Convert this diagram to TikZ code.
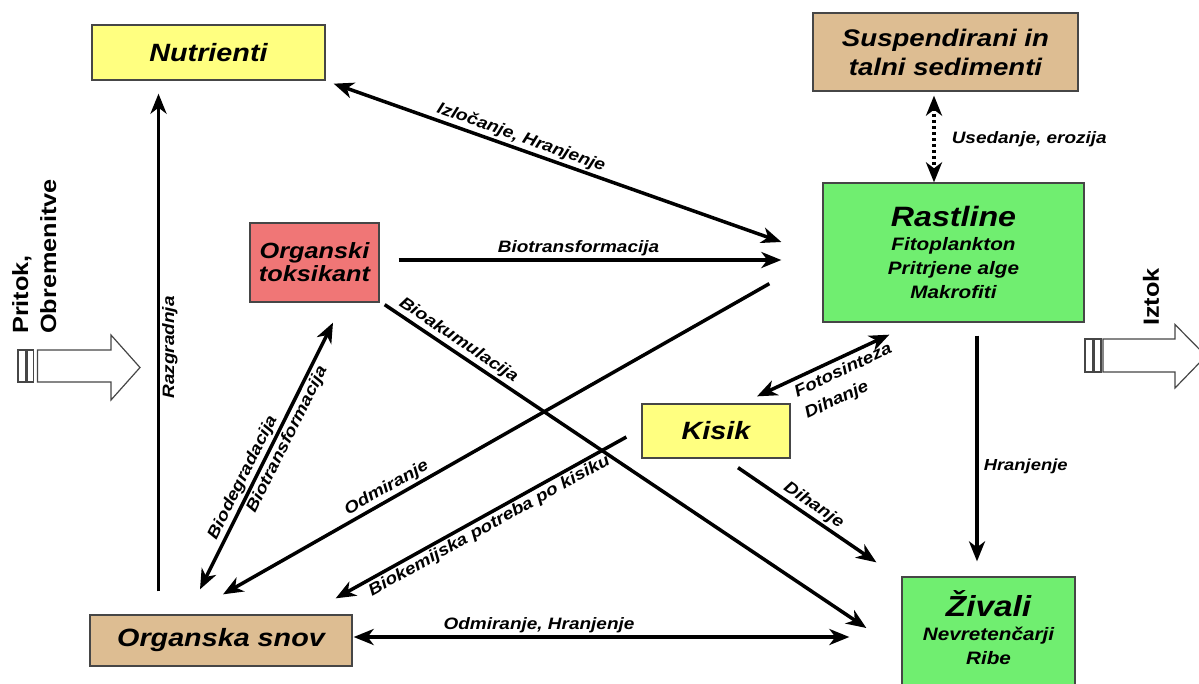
\documentclass[tikz,border=0pt]{standalone}
\usepackage{fontspec}
\setmainfont{Liberation Sans}[FakeStretch=1.15]
\usetikzlibrary{arrows.meta,calc}
\definecolor{boxyellow}{RGB}{255,255,128}
\definecolor{boxtan}{RGB}{221,189,146}
\definecolor{boxgreen}{RGB}{112,238,112}
\definecolor{boxred}{RGB}{240,118,118}
\definecolor{boxline}{RGB}{70,70,70}
\tikzset{
  box/.style={draw=boxline, line width=1.3pt, inner sep=0pt, align=center, font=\bfseries\itshape},
  conn/.style={line width=3.5pt, -{Stealth[length=20pt,width=16pt,inset=6pt]}},
  dconn/.style={line width=3.5pt, {Stealth[length=20pt,width=16pt,inset=6pt]}-{Stealth[length=20pt,width=16pt,inset=6pt]}},
  lab/.style={font=\bfseries\itshape\fontsize{16.5}{19}\selectfont, inner sep=2pt},
  blockarrow/.style={draw=boxline, line width=1.2pt, fill=white},
}
\begin{document}
\begin{tikzpicture}[x=1pt,y=-1pt]
\path[use as bounding box] (0,0) rectangle (1199,683);
\clip (0,0) rectangle (1199,683);

% boxes
\node[box, fill=boxyellow, minimum width=233, minimum height=55, font=\bfseries\itshape\fontsize{25}{28}\selectfont] (nut) at (208.5,52.5) {Nutrienti};
\node[box, fill=boxtan, minimum width=265, minimum height=78, font=\bfseries\itshape\fontsize{24}{29}\selectfont] (sus) at (945.5,52) {Suspendirani in\\talni sedimenti};
\node[box, fill=boxgreen, minimum width=261, minimum height=139, font=\bfseries\itshape\fontsize{18}{24}\selectfont] (rast) at (953.5,252.5) {{\fontsize{28}{28}\selectfont Rastline}\\ Fitoplankton\\ Pritrjene alge\\ Makrofiti};
\node[box, fill=boxred, minimum width=129, minimum height=79, font=\bfseries\itshape\fontsize{22}{23}\selectfont] (tox) at (314.5,262.5) {Organski\\toksikant};
\node[box, fill=boxyellow, minimum width=148, minimum height=54, font=\bfseries\itshape\fontsize{25}{28}\selectfont] (kis) at (716,431) {Kisik};
\node[box, fill=boxtan, minimum width=262, minimum height=51, font=\bfseries\itshape\fontsize{25}{28}\selectfont] (snov) at (221,640.5) {Organska snov};
\node[box, fill=boxgreen, minimum width=173, minimum height=113] (ziv) at (988.5,633.5) {};
\node[align=center, inner sep=0pt, font=\bfseries\itshape\fontsize{18}{24}\selectfont] (zivt) at (988.5,628) {{\fontsize{29}{28}\selectfont Živali}\\ Nevretenčarji\\ Ribe};

% block arrows
\draw[blockarrow] (18,350) rectangle (25.5,382);
\draw[blockarrow] (27,350) rectangle (33.5,382);
\draw[blockarrow] (37.5,350) -- (111,350) -- (111,335) -- (140,367.5) -- (111,400) -- (111,382) -- (37.5,382) -- cycle;
\node[rotate=90, anchor=north west, align=left, inner sep=0pt, font=\bfseries\fontsize{22}{28}\selectfont] (prit) at (12,334) {Pritok,\\Obremenitve};

\draw[blockarrow] (1085,339) rectangle (1092.5,372);
\draw[blockarrow] (1094,339) rectangle (1101,372);
\draw[blockarrow] (1103,339) -- (1175,339) -- (1175,324.5) -- (1206,356) -- (1175,388) -- (1175,372) -- (1103,372) -- cycle;
\node[rotate=90, inner sep=0pt, font=\bfseries\fontsize{22}{26}\selectfont] (izt) at (1151,297) {Iztok};

% connectors
\draw[dconn] ($(nut.south east)+(8,3)$) -- node[lab, sloped, above, pos=0.41] {Izločanje, Hranjenje} ($(rast.west)+(-41,-10.5)$);
\draw[conn] ($(tox.east)+(19,-2.5)$) -- node[lab, above, pos=0.47] {Biotransformacija} ($(rast.west)+(-41,7.5)$);
\draw[conn] ($(rast.south west)+(-53,-39)$) -- node[lab, sloped, above, pos=0.69] {Odmiranje} ($(snov.north)+(2,-20)$);
\draw[conn] ($(kis.west)+(-15,6)$) -- node[lab, sloped, below, pos=0.49] {Biokemijska potreba po kisiku} ($(snov.north east)+(-17,-16)$);
\draw[conn] ($(tox.south east)+(5,2)$) -- node[lab, sloped, above, pos=0.14] {Bioakumulacija} ($(ziv.west)+(-35,-5.5)$);
\draw[conn] ($(kis.south)+(22,9)$) -- node[lab, sloped, above, pos=0.5] {Dihanje} ($(ziv.north west)+(-25,-14)$);
\draw[conn] ($(rast.south)+(23.5,13)$) -- node[lab, right, pos=0.58, xshift=3pt, font=\bfseries\itshape\fontsize{16}{18}\selectfont] {Hranjenje} ($(ziv.north)+(-11.5,-15)$);
\draw[dconn] ($(kis.north)+(41,-7)$) -- node[lab, sloped, below, pos=0.61, inner sep=4pt, align=left, font=\bfseries\itshape\fontsize{16.5}{24}\selectfont] {Fotosinteza\\Dihanje} ($(rast.south west)+(67,12)$);
\draw[dconn] ($(snov.east)+(1,-3.5)$) -- node[lab, above, pos=0.374] {Odmiranje, Hranjenje} ($(ziv.west)+(-52,3.5)$);
\draw[conn] ($(snov.north)+(-62.5,-23)$) -- node[lab, sloped, below, pos=0.49] {Razgradnja} ($(nut.south)+(-50,13)$);
\draw[dconn] ($(snov.north)+(-21,-25)$) -- node[lab, sloped, above, pos=0.4] {Biodegradacija} node[lab, sloped, below, pos=0.58] {Biotransformacija} ($(tox.south)+(18.5,20)$);
\draw[dconn, dash pattern=on 3pt off 3pt] ($(sus.south)+(-11.5,4)$) -- node[lab, right, pos=0.5, xshift=14pt, font=\bfseries\itshape\fontsize{16.5}{18}\selectfont] {Usedanje, erozija} ($(rast.north)+(-19.5,0)$);
\end{tikzpicture}
\end{document}
